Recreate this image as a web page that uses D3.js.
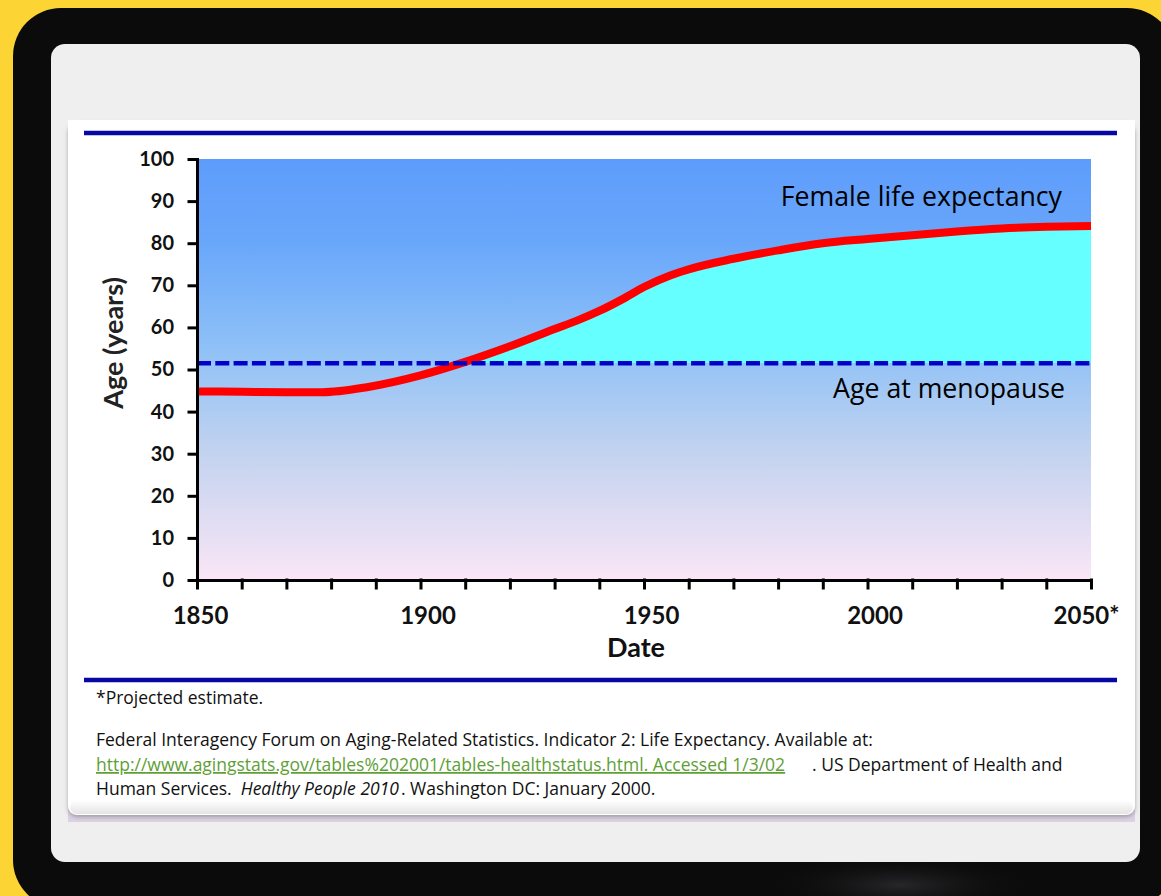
<!DOCTYPE html>
<html>
<head>
<meta charset="utf-8">
<script src="https://cdn.jsdelivr.net/npm/d3@7"></script>
<style>
body { margin: 0; background: #fcd434; overflow: hidden; }
svg { display: block; font-family: "Open Sans", Lato, sans-serif; }
</style>
</head>
<body>
<svg id="chart" width="1161" height="896"></svg>
<script>
// data
var years = [1850, 1860, 1870, 1878, 1888, 1900, 1910, 1920, 1930, 1935, 1940, 1945, 1950, 1956, 1960, 1970, 1980, 1990, 2000, 2010, 2020, 2030, 2040, 2050];
var femaleLifeExp = [44.8, 44.7, 44.6, 44.6, 45.8, 48.6, 51.8, 55.5, 59.6, 61.6, 63.9, 66.6, 69.6, 72.4, 73.8, 76.3, 78.3, 80.0, 81.0, 81.9, 82.8, 83.5, 83.9, 84.1];
var menopauseAge = 51.5;
var yTicks = [0, 10, 20, 30, 40, 50, 60, 70, 80, 90, 100];
var xTickYears = d3.range(1850, 2051, 10);
var xLabelYears = [1850, 1900, 1950, 2000, 2050];
var xLabelText = ["1850", "1900", "1950", "2000", "2050*"];

var svg = d3.select("#chart");
var defs = svg.append("defs");

/*** background: frame, panel, slide ***/
svg.append("rect").attr("width", 1161).attr("height", 896).attr("fill", "#fcd434");
svg.append("rect").attr("x", 13).attr("y", 8).attr("width", 1162).attr("height", 900).attr("rx", 48)
  .attr("fill", "#0b0b0b");

var glow = defs.append("radialGradient").attr("id", "glow");
glow.append("stop").attr("offset", "0%").attr("stop-color", "#3a3a40").attr("stop-opacity", 0.6);
glow.append("stop").attr("offset", "100%").attr("stop-color", "#0b0b0b").attr("stop-opacity", 0);
svg.append("ellipse").attr("cx", 900).attr("cy", 885).attr("rx", 140).attr("ry", 30).attr("fill", "url(#glow)");

svg.append("rect").attr("x", 51).attr("y", 44).attr("width", 1089).attr("height", 818).attr("rx", 14)
  .attr("fill", "#efefef");

var shadow = defs.append("filter").attr("id", "shadow").attr("x", "-5%").attr("y", "-5%").attr("width", "110%").attr("height", "115%");
shadow.append("feDropShadow").attr("dx", 0).attr("dy", 2).attr("stdDeviation", 2)
  .attr("flood-color", "#777").attr("flood-opacity", 0.6);

svg.append("rect").attr("x", 68).attr("y", 806).attr("width", 1067).attr("height", 16).attr("fill", "#dcd2e3");
svg.append("rect").attr("x", 68).attr("y", 122).attr("width", 1067).attr("height", 693).attr("rx", 9)
  .attr("fill", "#fff").attr("filter", "url(#shadow)");
svg.append("rect").attr("x", 68).attr("y", 120).attr("width", 1067).attr("height", 30).attr("fill", "#fff");

var bevel = defs.append("linearGradient").attr("id", "bevel").attr("x1", 0).attr("y1", 0).attr("x2", 0).attr("y2", 1);
bevel.append("stop").attr("offset", "0%").attr("stop-color", "#fff");
bevel.append("stop").attr("offset", "100%").attr("stop-color", "#e4e4e4");
svg.append("rect").attr("x", 70).attr("y", 800).attr("width", 1063).attr("height", 14).attr("rx", 7).attr("fill", "url(#bevel)");

// blue rules above and below the chart
svg.selectAll(".rule").data([133, 680]).enter().append("line")
  .attr("x1", 84).attr("x2", 1117).attr("y1", function(d) { return d; }).attr("y2", function(d) { return d; })
  .attr("stroke", "#0707a3").attr("stroke-width", 4.5);

/*** chart ***/
var x = d3.scaleLinear().domain([1850, 2050]).range([197, 1091]);
var y = d3.scaleLinear().domain([0, 100]).range([580, 159]);

var bg = defs.append("linearGradient").attr("id", "plotbg").attr("x1", 0).attr("y1", 0).attr("x2", 0).attr("y2", 1);
bg.append("stop").attr("offset", "0%").attr("stop-color", "#5e9cfc");
bg.append("stop").attr("offset", "20%").attr("stop-color", "#69a7fb");
bg.append("stop").attr("offset", "45%").attr("stop-color", "#8fc1f7");
bg.append("stop").attr("offset", "70%").attr("stop-color", "#c3d3ef");
bg.append("stop").attr("offset", "100%").attr("stop-color", "#fae6f6");

svg.append("rect").attr("x", x(1850)).attr("y", y(100))
  .attr("width", x(2050) - x(1850)).attr("height", y(0) - y(100))
  .attr("fill", "url(#plotbg)");

var pts = years.map(function(d, i) { return [d, femaleLifeExp[i]]; });

// cyan gap between menopause and life expectancy
defs.append("clipPath").attr("id", "aboveMeno").append("rect")
  .attr("x", x(1850)).attr("y", y(100)).attr("width", x(2050) - x(1850)).attr("height", y(menopauseAge) - y(100));

var area = d3.area().curve(d3.curveMonotoneX)
  .x(function(d) { return x(d[0]); })
  .y0(y(menopauseAge))
  .y1(function(d) { return y(d[1]); });
svg.append("path").datum(pts).attr("d", area).attr("fill", "#66ffff").attr("clip-path", "url(#aboveMeno)");

var line = d3.line().curve(d3.curveMonotoneX)
  .x(function(d) { return x(d[0]); })
  .y(function(d) { return y(d[1]); });
svg.append("path").datum(pts).attr("d", line)
  .attr("fill", "none").attr("stroke", "#ff0000").attr("stroke-width", 8);

svg.append("line").attr("x1", x(1850)).attr("x2", x(2050))
  .attr("y1", y(menopauseAge)).attr("y2", y(menopauseAge))
  .attr("stroke", "#0000c8").attr("stroke-width", 4.5).attr("stroke-dasharray", "14,4.3");

// axes
var yAxis = d3.axisLeft(y).tickValues(yTicks).tickSize(8).tickSizeOuter(0).tickPadding(15);
var gy = svg.append("g").attr("transform", "translate(" + x(1850) + ",0)").call(yAxis);
gy.selectAll("text").style("font-size", "20px").style("font-weight", 700).attr("fill", "#111")
  .style("font-family", "Lato, sans-serif");

var xAxis = d3.axisBottom(x).tickValues(xTickYears).tickSize(8).tickSizeOuter(0).tickPadding(19)
  .tickFormat(function(d) { var i = xLabelYears.indexOf(d); return i < 0 ? "" : xLabelText[i]; });
var gx = svg.append("g").attr("transform", "translate(0," + y(0) + ")").call(xAxis);
gx.selectAll("text").style("font-size", "24px").style("font-weight", 700).attr("fill", "#111")
  .attr("dx", function(d) { return d == 1850 ? 3 : (d == 2050 ? -5 : 7); })
  .style("font-family", "Lato, sans-serif");

svg.selectAll(".domain, .tick line").attr("stroke", "#000").attr("stroke-width", 3).attr("stroke-linecap", "square");

// labels
svg.append("text").attr("x", x(2050) - 29).attr("y", 206).attr("text-anchor", "end")
  .style("font-size", "26.7px").attr("fill", "#000").text("Female life expectancy");
svg.append("text").attr("x", x(2050) - 26).attr("y", 398).attr("text-anchor", "end")
  .style("font-size", "26.7px").attr("fill", "#000").text("Age at menopause");

svg.append("text").attr("x", 636).attr("y", 657).attr("text-anchor", "middle")
  .style("font-size", "27px").style("font-weight", 700).style("font-family", "Lato, sans-serif")
  .attr("fill", "#111").text("Date");
svg.append("text").attr("transform", "translate(123,343) rotate(-90)").attr("text-anchor", "middle")
  .style("font-size", "27px").style("font-weight", 700).style("font-family", "Lato, sans-serif")
  .attr("fill", "#222").text("Age (years)");

/*** footnotes ***/
var note = svg.append("g").style("font-size", "17.5px").attr("fill", "#111");
note.append("text").attr("x", 96).attr("y", 704).text("*Projected estimate.");
note.append("text").attr("x", 96).attr("y", 746)
  .text("Federal Interagency Forum on Aging-Related Statistics. Indicator 2: Life Expectancy. Available at:");
note.append("text").attr("x", 96).attr("y", 771).attr("fill", "#5e9f36").style("text-decoration", "underline")
  .text("http://www.agingstats.gov/tables%202001/tables-healthstatus.html. Accessed 1/3/02");
note.append("text").attr("x", 812).attr("y", 771).text(". US Department of Health and");
var last = note.append("text").attr("x", 96).attr("y", 795);
last.append("tspan").text("Human Services.");
last.append("tspan").attr("dx", 9).style("font-style", "italic").text("Healthy People 2010");
last.append("tspan").attr("dx", 2).text(". Washington DC: January 2000.");
</script>
</body>
</html>
